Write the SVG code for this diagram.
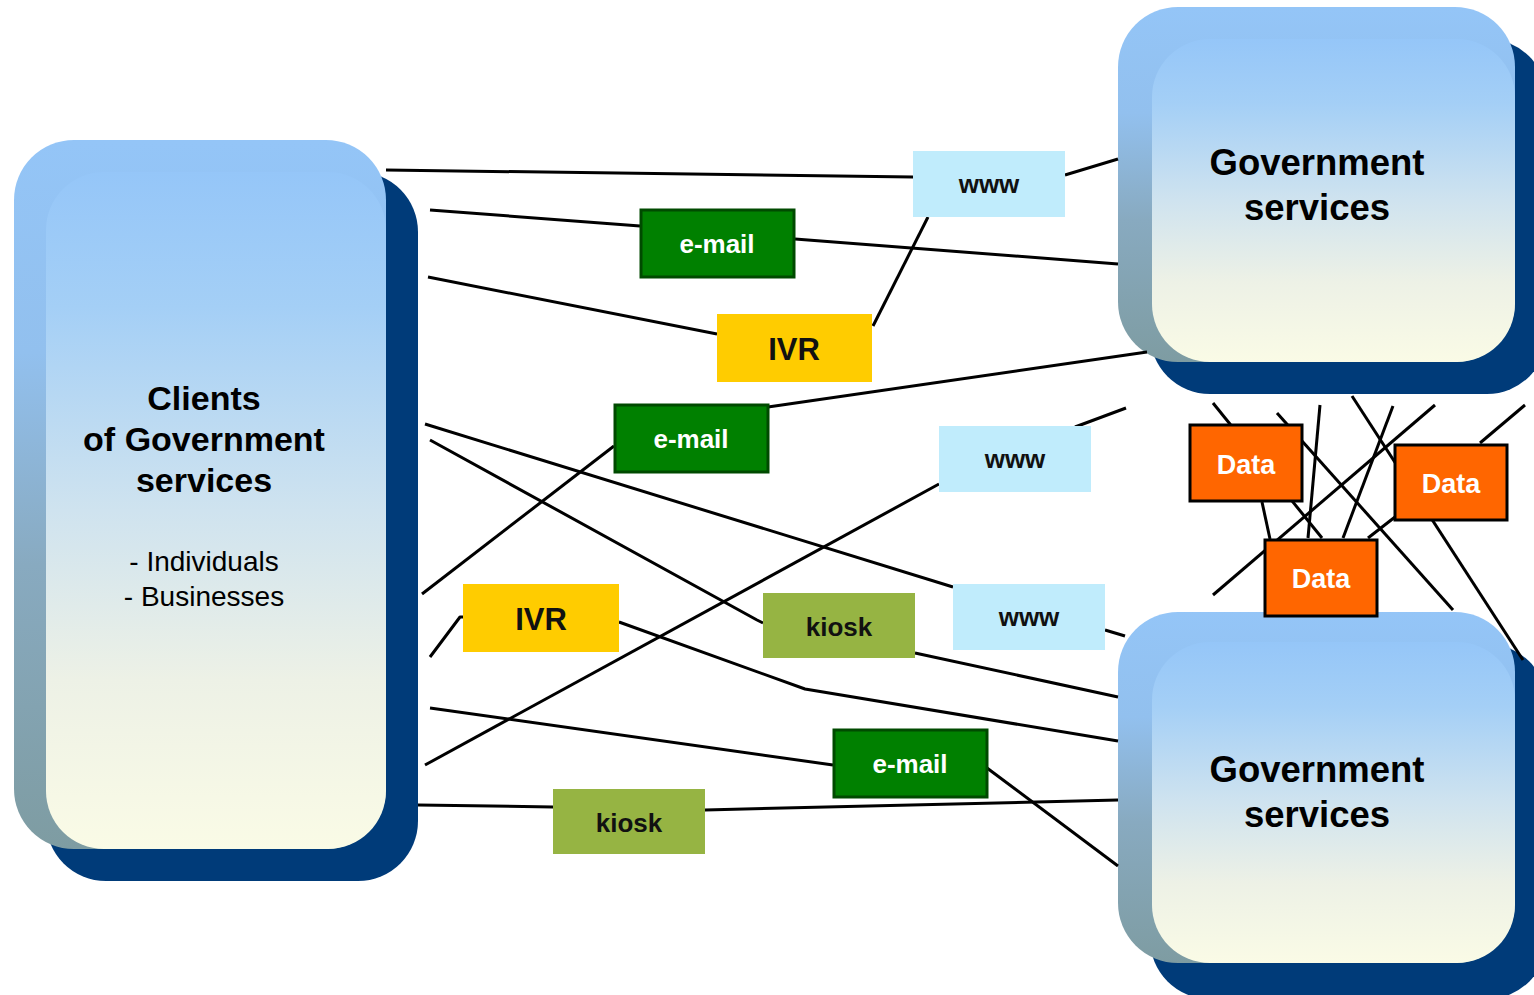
<svg xmlns="http://www.w3.org/2000/svg" width="1534" height="995" viewBox="0 0 1534 995">
  <defs>
    <!-- outer bevel: blue at the top fading to slate grey -->
    <linearGradient id="bevel" x1="0" y1="0" x2="0" y2="1">
      <stop offset="0" stop-color="#94C5F7"/>
      <stop offset="0.3" stop-color="#92C0EE"/>
      <stop offset="0.6" stop-color="#88AAC0"/>
      <stop offset="1" stop-color="#7E9CA2"/>
    </linearGradient>
    <!-- front face: sky blue fading to cream -->
    <linearGradient id="face" x1="0" y1="0" x2="0" y2="1">
      <stop offset="0" stop-color="#95C6F8"/>
      <stop offset="0.2" stop-color="#A4CFF6"/>
      <stop offset="0.5" stop-color="#CFE3EF"/>
      <stop offset="0.75" stop-color="#EDF1E6"/>
      <stop offset="1" stop-color="#FAFBE6"/>
    </linearGradient>
    <style>
      .shadow { fill: #003B79; }
      .bevel { fill: url(#bevel); }
      .face { fill: url(#face); }
      .ln { stroke: #000; stroke-width: 3; fill: none; stroke-linejoin: round; }
      .www { fill: #C0ECFC; }
      .mail { fill: #008000; stroke: #004A00; stroke-width: 3; }
      .ivr { fill: #FFCC00; }
      .kiosk { fill: #96B443; }
      .data { fill: #FF6600; stroke: #000; stroke-width: 3; }
      text { font-family: "Liberation Sans", Arial, sans-serif; text-anchor: middle; }
      .title { font-weight: bold; font-size: 36.5px; fill: #000; }
      .ctitle { font-weight: bold; font-size: 34px; fill: #000; }
      .sub { font-size: 28px; fill: #000; }
      .lbl { font-weight: bold; font-size: 26px; fill: #111; }
      .lblw { font-weight: bold; font-size: 26px; fill: #fff; }
      .ivrt { font-weight: bold; font-size: 31px; fill: #111; }
      .datat { font-weight: bold; font-size: 27px; fill: #fff; }
    </style>
  </defs>

  <rect width="1534" height="995" fill="#fff"/>

  <!-- clients block -->
  <g id="clients">
    <rect class="shadow" x="46" y="172" width="372" height="709" rx="60"/>
    <rect class="bevel" x="14" y="140" width="372" height="709" rx="60"/>
    <rect class="face" x="46" y="172" width="340" height="677" rx="58"/>
    <text class="ctitle" x="204" y="410">Clients</text>
    <text class="ctitle" x="204" y="451">of Government</text>
    <text class="ctitle" x="204" y="492">services</text>
    <text class="sub" x="204" y="571">- Individuals</text>
    <text class="sub" x="204" y="606">- Businesses</text>
  </g>

  <!-- government services, upper -->
  <g id="gov-top">
    <rect class="shadow" x="1150" y="39" width="397" height="355" rx="60"/>
    <rect class="bevel" x="1118" y="7" width="397" height="355" rx="60"/>
    <rect class="face" x="1152" y="39" width="363" height="323" rx="58"/>
    <text class="title" x="1317" y="175">Government</text>
    <text class="title" x="1317" y="220">services</text>
  </g>

  <!-- government services, lower -->
  <g id="gov-bottom">
    <rect class="shadow" x="1150" y="644" width="397" height="355" rx="60"/>
    <rect class="bevel" x="1118" y="612" width="397" height="351" rx="60"/>
    <rect class="face" x="1152" y="642" width="363" height="321" rx="58"/>
    <text class="title" x="1317" y="782">Government</text>
    <text class="title" x="1317" y="827">services</text>
  </g>

  <!-- channel and data links -->
  <g id="connectors">
    <path class="ln" d="M386,170 L913,177"/>
    <path class="ln" d="M1065,175 L1118,159"/>
    <path class="ln" d="M430,210 L640,226"/>
    <path class="ln" d="M795,239 L1118,264"/>
    <path class="ln" d="M428,277 L717,334"/>
    <path class="ln" d="M873,326 L928,217"/>
    <path class="ln" d="M768,407 L1147,352"/>
    <path class="ln" d="M422,594 L614,446"/>
    <path class="ln" d="M425,424 L953,587"/>
    <path class="ln" d="M1105,630 L1125,636"/>
    <path class="ln" d="M430,440 L757,620 L763,623"/>
    <path class="ln" d="M915,653 L1118,697"/>
    <path class="ln" d="M425,765 L939,484"/>
    <path class="ln" d="M1075,427 L1126,408"/>
    <path class="ln" d="M430,657 L460,617 L464,617"/>
    <path class="ln" d="M619,622 L805,689 L1118,741"/>
    <path class="ln" d="M430,708 L833,765"/>
    <path class="ln" d="M987,768 L1118,866"/>
    <path class="ln" d="M418,805 L553,807"/>
    <path class="ln" d="M705,810 L1118,800"/>
    <!-- data mesh -->
    <path class="ln" d="M1213,403 L1322,538"/>
    <path class="ln" d="M1277,413 L1453,610"/>
    <path class="ln" d="M1320,405 L1308,538"/>
    <path class="ln" d="M1352,396 L1523,660"/>
    <path class="ln" d="M1393,406 L1343,538"/>
    <path class="ln" d="M1435,405 L1213,595"/>
    <path class="ln" d="M1525,405 L1480,443"/>
    <path class="ln" d="M1395,517 L1368,538"/>
    <path class="ln" d="M1262,502 L1270,539"/>
  </g>

  <g id="www-1"><rect class="www" x="913" y="151" width="152" height="66"/><text class="lbl" x="989" y="193">www</text></g>
  <g id="email-1"><rect class="mail" x="641" y="210" width="153" height="67"/><text class="lblw" x="717" y="253">e-mail</text></g>
  <g id="ivr-1"><rect class="ivr" x="717" y="314" width="155" height="68"/><text class="ivrt" x="794" y="360">IVR</text></g>
  <g id="email-2"><rect class="mail" x="615" y="405" width="153" height="67"/><text class="lblw" x="691" y="448">e-mail</text></g>
  <g id="www-2"><rect class="www" x="939" y="426" width="152" height="66"/><text class="lbl" x="1015" y="468">www</text></g>
  <g id="www-3"><rect class="www" x="953" y="584" width="152" height="66"/><text class="lbl" x="1029" y="626">www</text></g>
  <g id="ivr-2"><rect class="ivr" x="463" y="584" width="156" height="68"/><text class="ivrt" x="541" y="630">IVR</text></g>
  <g id="kiosk-1"><rect class="kiosk" x="763" y="593" width="152" height="65"/><text class="lbl" x="839" y="636">kiosk</text></g>
  <g id="email-3"><rect class="mail" x="834" y="730" width="153" height="67"/><text class="lblw" x="910" y="773">e-mail</text></g>
  <g id="kiosk-2"><rect class="kiosk" x="553" y="789" width="152" height="65"/><text class="lbl" x="629" y="832">kiosk</text></g>
  <g id="data-1"><rect class="data" x="1190" y="425" width="112" height="76"/><text class="datat" x="1246" y="474">Data</text></g>
  <g id="data-2"><rect class="data" x="1395" y="445" width="112" height="75"/><text class="datat" x="1451" y="493">Data</text></g>
  <g id="data-3"><rect class="data" x="1265" y="540" width="112" height="76"/><text class="datat" x="1321" y="588">Data</text></g>
</svg>
